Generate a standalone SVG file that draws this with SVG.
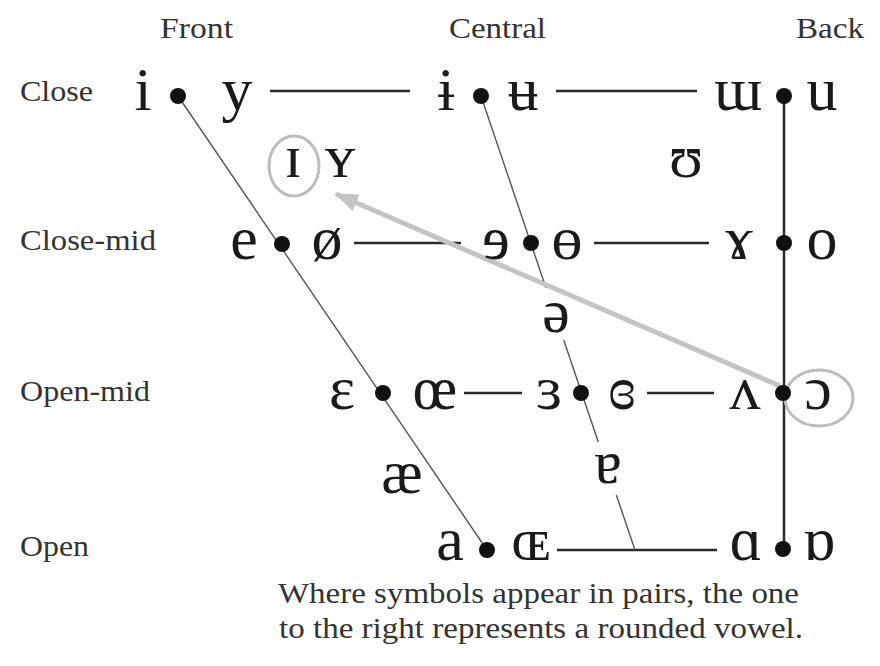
<svg xmlns="http://www.w3.org/2000/svg" width="880" height="666" viewBox="0 0 880 666">
<defs>
<style>
.lbl{font-family:"Liberation Serif","Times New Roman",serif;font-size:29px;fill:#333}
.v{font-family:"Liberation Serif","DejaVu Serif",serif;font-size:62px;fill:#1a1a1a;text-anchor:middle}
.dot{fill:#111}
.hl{stroke:#2a2a2a;stroke-width:2.5;fill:none}
.thin{stroke:#555;stroke-width:1.4;fill:none}
.ring{stroke:#bdbdbd;stroke-width:3;fill:none}
.note{font-family:"Liberation Serif","Times New Roman",serif;font-size:29px;fill:#333}
</style>
<marker id="ah" markerUnits="userSpaceOnUse" markerWidth="24" markerHeight="20" viewBox="0 0 24 20" refX="22" refY="10" orient="auto">
<path d="M0,1 L24,10 L0,19 Z" fill="#c4c4c4"/>
</marker>
</defs>
<rect width="880" height="666" fill="#fff"/>

<g id="labels">
<text class="lbl" x="160" y="38" textLength="73" lengthAdjust="spacingAndGlyphs">Front</text>
<text class="lbl" x="449" y="38" textLength="97" lengthAdjust="spacingAndGlyphs">Central</text>
<text class="lbl" x="796" y="38" textLength="68" lengthAdjust="spacingAndGlyphs">Back</text>
<text class="lbl" x="20" y="101" textLength="73" lengthAdjust="spacingAndGlyphs">Close</text>
<text class="lbl" x="20" y="250" textLength="136" lengthAdjust="spacingAndGlyphs">Close-mid</text>
<text class="lbl" x="20" y="401" textLength="130" lengthAdjust="spacingAndGlyphs">Open-mid</text>
<text class="lbl" x="20" y="556" textLength="69" lengthAdjust="spacingAndGlyphs">Open</text>
</g>

<g id="connectors">
<line class="hl" x1="270" y1="91" x2="410" y2="91"/>
<line class="hl" x1="556" y1="91" x2="697" y2="91"/>
<line class="hl" x1="354" y1="243" x2="461" y2="243"/>
<line class="hl" x1="594" y1="243" x2="709" y2="243"/>
<line class="hl" x1="464" y1="393" x2="522" y2="393"/>
<line class="hl" x1="647" y1="393" x2="714" y2="393"/>
<line class="hl" x1="557" y1="550" x2="717" y2="550"/>
<line class="hl" x1="784" y1="96" x2="784" y2="548"/>
<line class="thin" x1="178" y1="96" x2="487" y2="550"/>
<line class="thin" x1="481" y1="96" x2="546" y2="288"/>
<line class="thin" x1="563.7" y1="340" x2="598.3" y2="442"/>
<line class="thin" x1="616.3" y1="495" x2="635" y2="550"/>
<line x1="780" y1="386" x2="336" y2="194" stroke="#c4c4c4" stroke-width="5" marker-end="url(#ah)"/>
</g>

<g id="highlights">
<ellipse class="ring" cx="294" cy="166" rx="25" ry="30"/>
<ellipse class="ring" cx="819" cy="398" rx="34" ry="28"/>
</g>

<g id="close-front">
<text class="v" x="143" y="110">i</text>
<circle class="dot" cx="178" cy="96" r="8"/>
<text class="v" x="237" y="110">y</text>
</g>
<g id="close-central">
<text class="v" x="446" y="110">ɨ</text>
<circle class="dot" cx="481" cy="96" r="8"/>
<text class="v" x="523" y="110">ʉ</text>
</g>
<g id="close-back">
<text class="v" x="738" y="110">ɯ</text>
<circle class="dot" cx="784" cy="96" r="8"/>
<text class="v" x="822" y="110">u</text>
</g>
<g id="near-close-front">
<text class="v" x="293" y="177">ɪ</text>
<text class="v" x="340" y="177">ʏ</text>
</g>
<g id="near-close-back">
<text class="v" x="686" y="177">ʊ</text>
</g>
<g id="close-mid-front">
<text class="v" x="244" y="259">e</text>
<circle class="dot" cx="282" cy="244" r="8"/>
<text class="v" x="327" y="259">ø</text>
</g>
<g id="close-mid-central">
<text class="v" x="496" y="259">ɘ</text>
<circle class="dot" cx="531" cy="243" r="8"/>
<text class="v" x="567" y="259">ɵ</text>
</g>
<g id="close-mid-back">
<text class="v" x="739" y="259">ɤ</text>
<circle class="dot" cx="784" cy="243" r="8"/>
<text class="v" x="822" y="259">o</text>
</g>
<g id="mid-central">
<text class="v" x="556" y="332">ə</text>
</g>
<g id="open-mid-front">
<text class="v" x="342" y="409">ɛ</text>
<circle class="dot" cx="383" cy="393" r="8"/>
<text class="v" x="435" y="409">œ</text>
</g>
<g id="open-mid-central">
<text class="v" x="549" y="409">ɜ</text>
<circle class="dot" cx="581" cy="393" r="8"/>
<text class="v" x="622" y="409">ɞ</text>
</g>
<g id="open-mid-back">
<text class="v" x="745" y="409">ʌ</text>
<circle class="dot" cx="783" cy="393" r="8"/>
<text class="v" x="818" y="409">ɔ</text>
</g>
<g id="near-open-front">
<text class="v" x="402" y="493">æ</text>
</g>
<g id="near-open-central">
<text class="v" x="608" y="483">ɐ</text>
</g>
<g id="open-front">
<text class="v" x="450" y="560">a</text>
<circle class="dot" cx="487" cy="550" r="8"/>
<text class="v" x="531" y="560">ɶ</text>
</g>
<g id="open-back">
<text class="v" x="746" y="560">ɑ</text>
<circle class="dot" cx="783" cy="549" r="8"/>
<text class="v" x="819" y="560">ɒ</text>
</g>

<g id="note">
<text class="note" x="278" y="603" textLength="521" lengthAdjust="spacingAndGlyphs">Where symbols appear in pairs, the one</text>
<text class="note" x="279" y="638" textLength="524" lengthAdjust="spacingAndGlyphs">to the right represents a rounded vowel.</text>
</g>
</svg>
